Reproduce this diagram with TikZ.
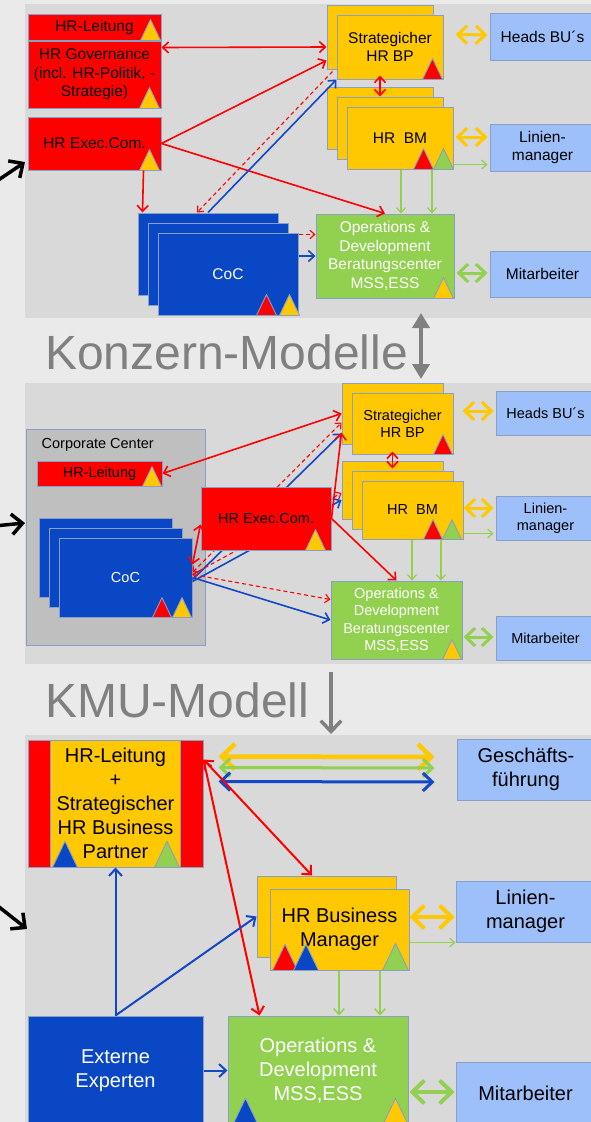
\documentclass[tikz,border=0pt]{standalone}
\usepackage{fontspec}
\setmainfont{Liberation Sans}
\usetikzlibrary{positioning}
\usetikzlibrary{calc}
\usetikzlibrary{arrows.meta}

\definecolor{hrred}{HTML}{FF0000}
\definecolor{hryel}{HTML}{FFC800}
\definecolor{hrblue}{HTML}{0A47C4}
\definecolor{hrgreen}{HTML}{92D050}
\definecolor{hrlight}{HTML}{9EC0FA}
\definecolor{hrframe}{HTML}{8A9FC8}
\definecolor{panelgray}{HTML}{D9D9D9}
\definecolor{outergray}{HTML}{EAEAEA}
\definecolor{corpgray}{HTML}{BFBFBF}
\definecolor{titlegray}{HTML}{808080}
\definecolor{arrblue}{HTML}{1446C8}

\newcommand{\fone}{\fontsize{15.5}{18.5}\selectfont}
\newcommand{\ftwo}{\fontsize{14.5}{17.5}\selectfont}
\newcommand{\fthree}{\fontsize{20}{24}\selectfont}
\newcommand{\tri}[4][20]{\filldraw[tri node,fill=#2] ($(#3.south east)+(-#4,0)$) -- ++(#1,0) -- ++({-#1/2},{-1.05*#1}) -- cycle;}

\begin{document}
\begin{tikzpicture}[x=1pt,y=-1pt,>={Straight Barb[length=2pt 2.5,width=3pt 5]},
	hr box/.style={draw=hrframe,line width=1pt,inner sep=0,align=center},
	red box/.style={hr box,fill=hrred},
	yel box/.style={hr box,fill=hryel},
	blue box/.style={hr box,fill=hrblue,text=white},
	green box/.style={hr box,fill=hrgreen,text=white},
	light box/.style={hr box,fill=hrlight},
	tri node/.style={draw=hrframe,line width=0.9pt,line join=round},
	red arrow/.style={draw=hrred,line width=1.6pt},
	red dash/.style={draw=hrred,line width=1.1pt,dash pattern=on 4pt off 3pt},
	blue arrow/.style={draw=arrblue,line width=1.6pt},
	green thin/.style={draw=hrgreen,line width=1.2pt},
	yellow dbl/.style={draw=hryel,line width=3pt},
	green dbl/.style={draw=hrgreen,line width=3pt},
	black arrow/.style={draw=black,line width=3.5pt,->},
	]
		\useasboundingbox (0,0) rectangle (591,1122);
		\clip (0,0) rectangle (591,1122);
		\fill[outergray] (0,0) rectangle (591,1122);
		\foreach \ya/\yb in {4/318,383/664,735/1122}
			\fill[panelgray] (25,\ya) rectangle (591,\yb);
		
		%titles
		\node[anchor=base west,inner sep=0,text=titlegray,font=\fontsize{48}{48}\selectfont] (konz) at (45,369) {Konzern-Modelle};
		\node[anchor=base west,inner sep=0,text=titlegray,font=\fontsize{48}{48}\selectfont] (kmu) at (45,717) {KMU-Modell};
		\coordinate (konzA) at (421,313);
		\coordinate (konzB) at (421,379);
		\draw[draw=titlegray,line width=4pt,{Triangle[length=15pt,width=17pt]}-{Triangle[length=15pt,width=17pt]}] (konzA) -- (konzB);
		\coordinate (kmuA) at (331,672);
		\coordinate (kmuB) at (331,734);
		\draw[draw=titlegray,line width=3.5pt,->] (kmuA) -- (kmuB);
		
		%left arrows
		\coordinate (tail1) at (-6,183); \coordinate (tip1) at (25,162);
		\coordinate (tail2) at (-6,526); \coordinate (tip2) at (25,523);
		\coordinate (tail3) at (-6,903); \coordinate (tip3) at (27,929);
		\foreach \i in {1,2,3}
			\draw[black arrow] (tail\i) -- (tip\i);
		
		%panel 1: Konzern, HR governance
		\node[red box,minimum width=133,minimum height=26,font=\fone] (lead1) at (94.5,27) {HR-Leitung};
		\node[red box,minimum width=133,minimum height=67,font=\fone] (gov1) at (94.5,74.5) {HR Governance\\(incl. HR-Politik, -\\Strategie)};
		\node[red box,minimum width=133,minimum height=53,font=\fone] (exec1) at (94.5,143.5) {HR Exec.Com.};
		\foreach \i/\nm in {0/cocA1,10/cocB1}
			\node[blue box,minimum width=140,minimum height=82] (\nm) at (208+\i,254+\i) {};
		\node[blue box,minimum width=140,minimum height=82,font=\fone] (coc1) at (228,274) {CoC};
		\node[yel box,minimum width=106,minimum height=64] (bpA1) at (380,37) {};
		\node[yel box,minimum width=106,minimum height=64,font=\fone] (bp1) at (390,47) {Strategicher\\HR BP};
		\foreach \i/\nm in {0/bmA1,10/bmB1}
			\node[yel box,minimum width=106,minimum height=62] (\nm) at (380+\i,118+\i) {};
		\node[yel box,minimum width=106,minimum height=62,font=\fone] (bm1) at (400,138) {HR~~BM};
		\node[green box,minimum width=138,minimum height=84,font=\fone] (ops1) at (385,256) {Operations \&\\Development\\Beratungscenter\\MSS,ESS};
		\node[light box,minimum width=105,minimum height=47,font=\fone] (heads1) at (542.5,36.5) {Heads BU´s};
		\node[light box,minimum width=105,minimum height=47,font=\fone] (lin1) at (542.5,147.5) {Linien-\\manager};
		\node[light box,minimum width=105,minimum height=46,font=\fone] (mit1) at (542.5,274) {Mitarbeiter};
		\tri{hryel}{lead1}{21}
		\tri{hryel}{gov1}{22}
		\tri{hryel}{exec1}{22}
		\tri{hrred}{coc1}{42}
		\tri{hryel}{coc1}{19}
		\tri{hrred}{bp1}{21}
		\tri{hrred}{bm1}{40}
		\tri{hrgreen}{bm1}{20}
		\tri{hryel}{ops1}{21}
		
		\draw[red arrow,<->] ($(gov1.north east)+(0,7)$) -- ($(bpA1.west)+(0,10)$);
		\draw[red arrow,->] (exec1.east) -- ($(bpA1.south west)+(0,-9)$);
		\draw[red arrow,->] (exec1.east) -- (ops1.north);
		\draw[red arrow,->] ($(exec1.south east)+(-18,0)$) -- ($(cocA1.north west)+(5,0)$);
		\draw[red dash,->] ($(bpA1.south west)+(6,2)$) -- ($(cocA1.north)+(-11,0)$);
		\draw[blue arrow,->] (cocA1.north) -- (bp1.south west);
		\draw[red dash,->] ($(coc1.north east)+(0,2)$) -- ($(ops1.north west)+(0,21)$);
		\draw[blue arrow,->] (coc1.east |- ops1.west) -- (ops1.west);
		\draw[red arrow,<->] ($(bp1.south)+(-10,-4)$) -- ($(bmB1.north)+(-10,0)$);
		\draw[yellow dbl,<->] ($(bp1.north east)+(12,20)$) -- ($(heads1.west)+(-2,-1.5)$);
		\draw[yellow dbl,<->] ($(bm1.east)+(2,-1)$) -- ($(lin1.west)+(-2,-10.5)$);
		\draw[green thin,->] ($(bm1.south east)+(0,-5)$) -- ($(lin1.south west)+(-2,-7)$);
		\foreach \dx in {1,32}
			\draw[green thin,->] ($(bm1.south)+(\dx,0)$) -- ($(ops1.north)+(\dx+15,0)$);
		\draw[green dbl,<->] ($(ops1.east)+(2,17)$) -- ($(mit1.west)+(-2,-1)$);
		
		%panel 2: Konzern, corporate center
		\node[hr box,fill=corpgray,minimum width=179,minimum height=216] (corp) at (115.5,537) {};
		\node[anchor=west,inner sep=0,font=\ftwo] (corplbl) at ($(corp.north west)+(16,16)$) {Corporate Center};
		\node[red box,minimum width=125,minimum height=25,font=\ftwo] (lead2) at (99.5,473.5) {HR-Leitung};
		\foreach \i/\nm in {0/cocA2,10/cocB2}
			\node[blue box,minimum width=133,minimum height=79] (\nm) at (105.5+\i,557.5+\i) {};
		\node[blue box,minimum width=133,minimum height=79,font=\ftwo] (coc2) at (125.5,577.5) {CoC};
		\node[yel box,minimum width=101,minimum height=61] (bpA2) at (392.5,413.5) {};
		\node[yel box,minimum width=101,minimum height=61,font=\ftwo] (bp2) at (402.5,423.5) {Strategicher\\HR BP};
		\foreach \i/\nm in {0/bmA2,10/bmB2}
			\node[yel box,minimum width=101,minimum height=58] (\nm) at (392.5+\i,490+\i) {};
		\node[yel box,minimum width=101,minimum height=58,font=\ftwo] (bm2) at (412.5,510) {HR~~BM};
		\node[green box,minimum width=131,minimum height=78,font=\ftwo] (ops2) at (396.5,620) {Operations \&\\Development\\Beratungscenter\\MSS,ESS};
		\node[light box,minimum width=99,minimum height=44,font=\ftwo] (heads2) at (545.5,413) {Heads BU´s};
		\node[light box,minimum width=99,minimum height=44,font=\ftwo] (lin2) at (545.5,518) {Linien-\\manager};
		\node[light box,minimum width=99,minimum height=44,font=\ftwo] (mit2) at (545.5,638) {Mitarbeiter};
		%paths behind exec.com
		\draw[red dash,<->] ($(coc2.north east)+(0,35)$) -- ($(bpA2.south west)+(0,-22)$);
		\draw[blue arrow,->] ($(coc2.north east)+(0,42)$) -- ($(bpA2.south west)+(0,-11)$);
		\draw[red dash,->] ($(coc2.north east)+(0,37)$) -- ($(bmA2.west)+(0,3)$);
		\draw[blue arrow,->] ($(coc2.north east)+(0,44)$) -- ($(bmA2.west)+(0,10)$);
		\node[red box,minimum width=130,minimum height=63,font=\ftwo] (exec2) at (266,518.5) {HR Exec.Com.};
		\tri[19]{hryel}{lead2}{20}
		\tri[19]{hrred}{coc2}{40}
		\tri[19]{hryel}{coc2}{20}
		\tri{hryel}{exec2}{26}
		\tri[19]{hrred}{bp2}{20}
		\tri[19]{hrred}{bm2}{40}
		\tri[19]{hrgreen}{bm2}{21}
		\tri[19]{hryel}{ops2}{20}
		
		\draw[red arrow,<->] ($(exec2.west)+(0,6)$) -- ($(coc2.north east)+(0,27)$);
		\draw[red arrow,<->] (lead2.east) -- (bpA2.west);
		\draw[red arrow,->] (exec2.east) -- ($(bpA2.south west)+(0,-12)$);
		\draw[red arrow,->] (exec2.east) -- (ops2.north);
		\draw[red dash,<->] ($(coc2.north east)+(0,37)$) -- ($(ops2.north west)+(0,19)$);
		\draw[blue arrow,->] ($(coc2.north east)+(0,40)$) -- (ops2.west);
		\draw[red arrow,<->] ($(bp2.south)+(-10,-3)$) -- ($(bmA2.north)+(0,8)$);
		\draw[yellow dbl,<->] ($(bp2.east)+(9,-12.5)$) -- ($(heads2.west)+(-2,-2)$);
		\draw[yellow dbl,<->] ($(bm2.east)+(0,-2)$) -- ($(lin2.west)+(-2,-10)$);
		\draw[green thin,->] ($(bm2.south east)+(0,-6)$) -- ($(lin2.south west)+(-2,-7)$);
		\foreach \dx/\ex in {-0.5/15.5,28.5/44.5}
			\draw[green thin,->] ($(bm2.south)+(\dx,0)$) -- ($(ops2.north)+(\ex,0)$);
		\draw[green dbl,<->] ($(ops2.east)+(1,17)$) -- ($(mit2.west)+(-2,-1)$);
		
		%panel 3: KMU
		\node[red box,minimum width=175,minimum height=127] (lead3) at (115.5,803.5) {};
		\node[yel box,minimum width=130,minimum height=127,font=\fthree] (lead3in) at (115.5,803.5) {HR-Leitung\\+\\Strategischer\\HR Business\\Partner};
		\node[blue box,minimum width=175,minimum height=109,font=\fthree] (ext3) at (115.5,1070.5) {Externe\\Experten};
		\node[green box,minimum width=180,minimum height=109,font=\fthree] (ops3) at (318,1070.5) {Operations \&\\Development\\MSS,ESS};
		\node[yel box,minimum width=139,minimum height=81] (bmA3) at (326.5,916.5) {};
		\node[yel box,minimum width=139,minimum height=81,font=\fthree] (bm3) at (339.5,929.5) {HR Business\\Manager};
		\node[light box,minimum width=138,minimum height=61,font=\fthree] (gf3) at (526,769.5) {Geschäfts-\\führung};
		\node[light box,minimum width=139,minimum height=61,font=\fthree] (lin3) at (525.5,911.5) {Linien-\\manager};
		\node[light box,minimum width=139,minimum height=63,font=\fthree] (mit3) at (525.5,1093.5) {Mitarbeiter};
		\tri[25]{hrblue}{lead3}{151}
		\tri[25]{hrgreen}{lead3}{49}
		\tri[25]{hrred}{bm3}{137}
		\tri[25]{hrblue}{bm3}{116}
		\tri[26]{hrgreen}{bm3}{27}
		\tri[26]{hrblue}{ops3}{176}
		\tri[26]{hryel}{ops3}{26}
		
		\foreach \c/\dy/\w in {hryel/17/4.5,hrgreen/28/3,arrblue/42/3}
			\draw[draw=\c,line width=\w,<->] ($(lead3.north east)+(15,\dy)$) -- ($(gf3.west)+(-22,\dy-29.5)$);
		\draw[red arrow,line width=2pt,<->] ($(lead3.north east)+(0,20)$) -- ($(bmA3.north)+(-14.5,0)$);
		\draw[red arrow,line width=2pt,<->] ($(lead3.north east)+(0,20)$) -- ($(ops3.north west)+(32,0)$);
		\draw[blue arrow,line width=2pt,->] (ext3.north) -- (lead3.south);
		\draw[blue arrow,line width=2pt,->] (ext3.north) -- (bmA3.west);
		\draw[blue arrow,line width=2pt,->] (ext3.east) -- (ops3.west);
		\draw[yellow dbl,line width=4pt,<->] ($(bm3.east)+(0,-12.5)$) -- ($(lin3.west)+(-1,5.5)$);
		\draw[green thin,->] ($(bm3.south east)+(0,-28)$) -- (lin3.south west);
		\foreach \dx/\ex in {-0.5/21,40.5/62}
			\draw[green thin,line width=1.5pt,->] ($(bm3.south)+(\dx,0)$) -- ($(ops3.north)+(\ex,0)$);
		\draw[green dbl,line width=4pt,<->] ($(ops3.east)+(1,21.5)$) -- ($(mit3.west)+(-1,-1.5)$);
		
\end{tikzpicture}
\end{document}
